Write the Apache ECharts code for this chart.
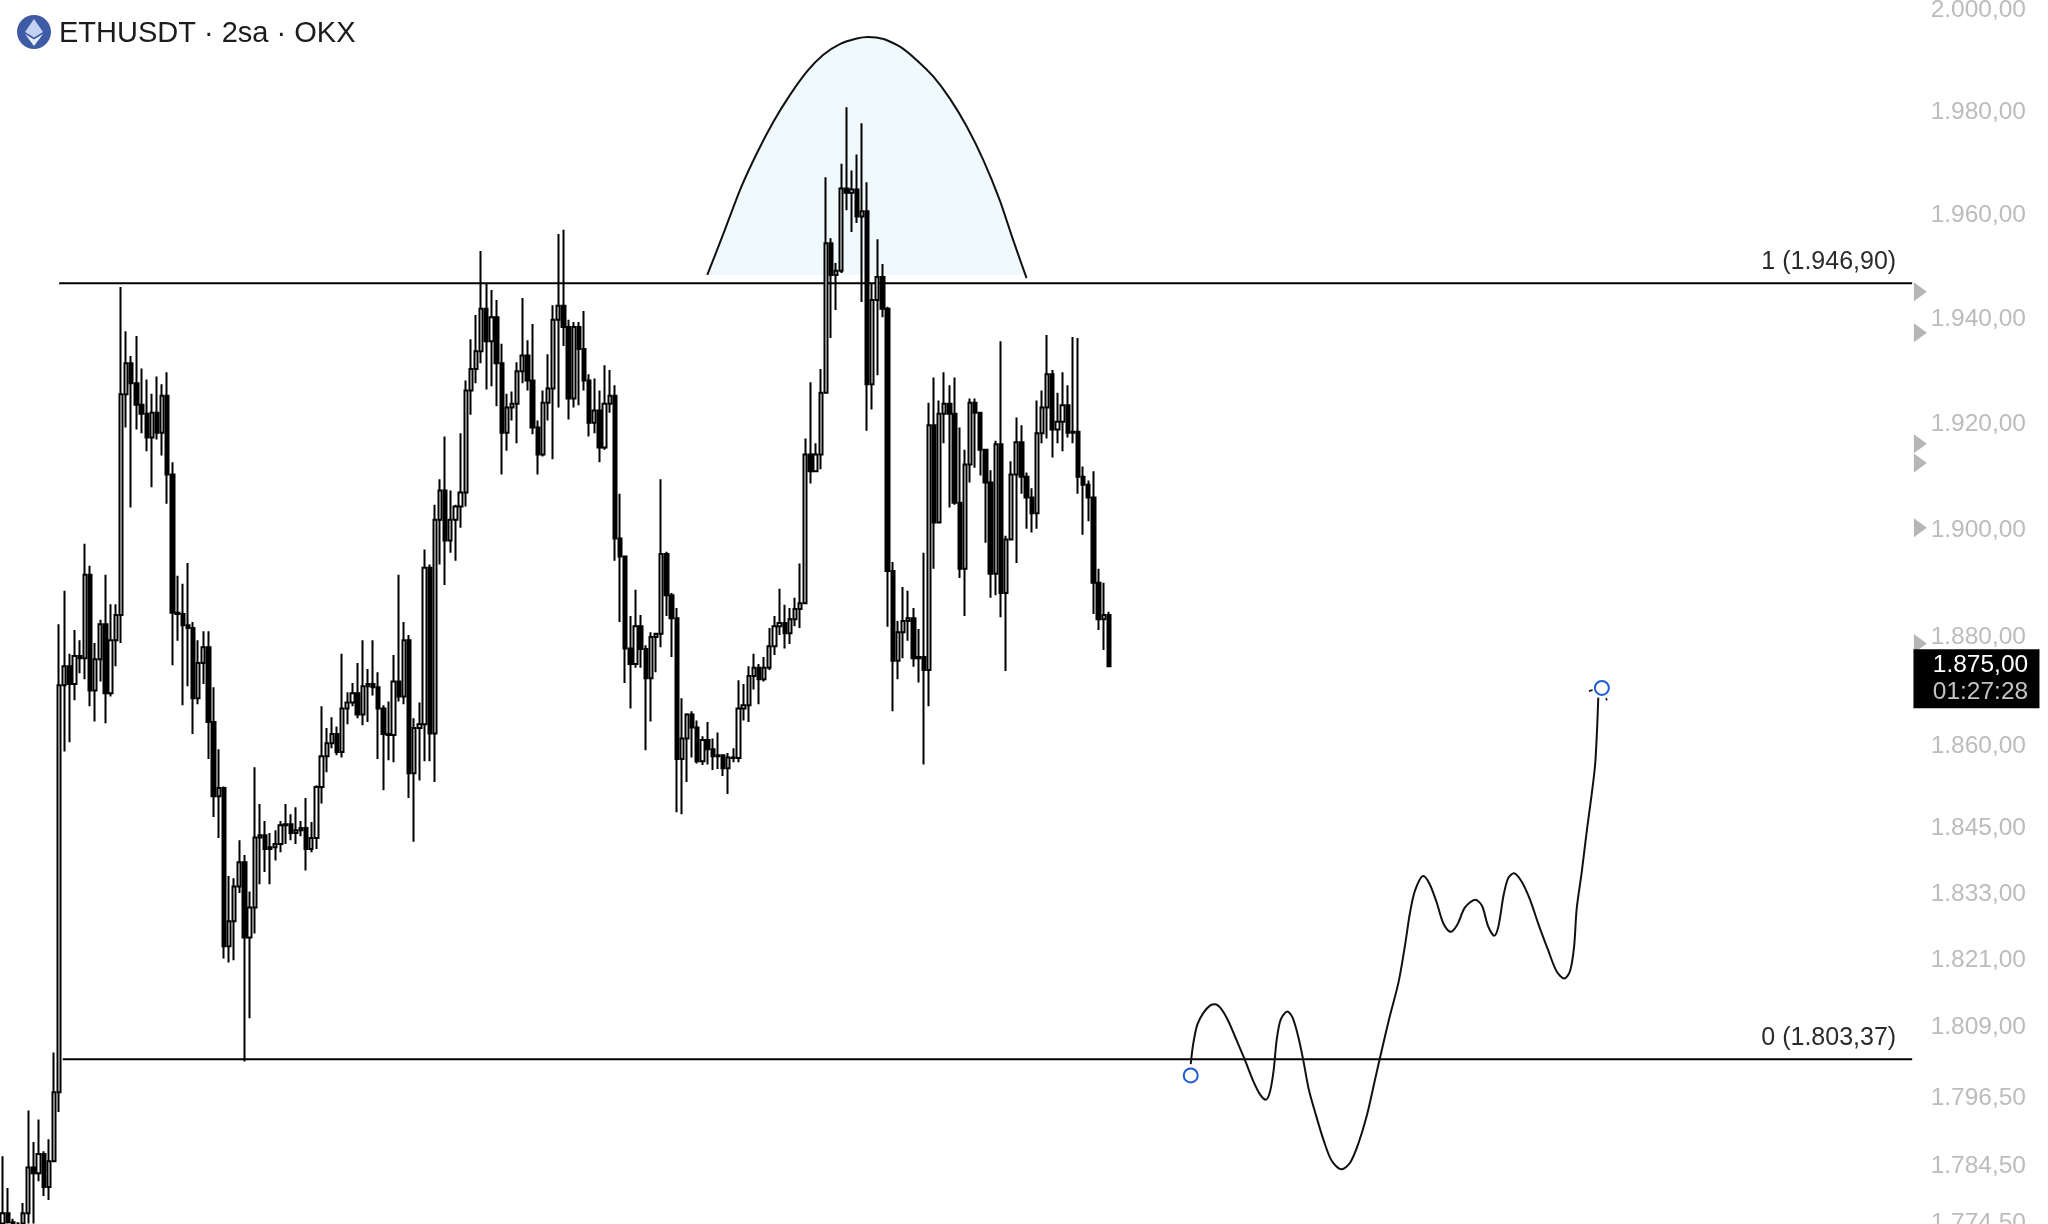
<!DOCTYPE html>
<html><head><meta charset="utf-8">
<style>html,body{margin:0;padding:0;background:#fff}#c{width:2048px;height:1224px}</style>
<script src="https://cdn.jsdelivr.net/npm/echarts@6/dist/echarts.min.js"></script>
</head><body><div id="c"></div>
<script>
const titleText = 'ETHUSDT · 2sa · OKX';
const firstOpen = 1774.4;
const closes = [1776.2,1774.6,1774.4,1774.4,1776.2,1784.2,1783.2,1786.6,1780.8,1785.3,1797.5,1871.2,1874.7,1871.4,1876.6,1876.2,1891.7,1870.2,1876.0,1882.5,1869.7,1879.5,1884.2,1925.7,1931.6,1927.8,1923.7,1922.0,1917.5,1922.2,1918.4,1925.4,1910.5,1884.6,1884.4,1882.3,1881.8,1868.8,1875.3,1878.2,1864.4,1850.8,1852.3,1823.6,1828.1,1834.4,1838.8,1825.2,1830.6,1843.3,1843.7,1841.2,1841.5,1842.1,1845.5,1845.7,1844.1,1844.6,1845.0,1841.2,1843.2,1852.5,1858.1,1860.5,1862.2,1858.9,1866.9,1868.0,1869.7,1865.8,1871.0,1871.4,1870.8,1866.9,1862.2,1862.0,1871.9,1869.1,1879.5,1855.0,1863.3,1864.0,1893.0,1862.3,1902.0,1907.5,1898.1,1902.0,1904.5,1907.1,1926.4,1930.5,1933.9,1942.0,1935.8,1940.4,1931.6,1918.4,1923.2,1923.9,1930.1,1933.1,1928.3,1919.4,1914.3,1924.1,1926.8,1939.9,1942.6,1938.5,1924.9,1938.5,1934.3,1928.3,1920.3,1922.6,1915.6,1923.9,1925.4,1898.5,1895.1,1878.0,1875.1,1882.1,1877.9,1872.5,1880.1,1880.7,1895.6,1887.9,1883.6,1857.6,1861.4,1865.8,1863.4,1857.2,1861.1,1859.4,1858.1,1858.3,1855.9,1857.9,1857.8,1866.9,1867.5,1872.9,1874.4,1872.3,1874.4,1878.4,1882.1,1882.7,1880.8,1883.4,1885.3,1886.4,1914.3,1911.1,1914.3,1926.0,1954.6,1948.5,1949.3,1965.2,1964.4,1965.0,1959.8,1960.8,1927.6,1943.7,1948.1,1942.0,1892.4,1875.7,1881.0,1883.1,1883.6,1876.2,1876.4,1874.0,1919.8,1901.5,1922.0,1923.9,1922.0,1905.2,1892.8,1912.4,1924.1,1922.2,1915.2,1909.0,1891.9,1916.2,1888.3,1898.3,1910.5,1916.6,1910.1,1906.2,1903.2,1918.3,1923.2,1929.5,1919.0,1920.5,1923.6,1918.4,1918.6,1910.1,1908.6,1906.2,1890.2,1883.4,1884.2,1874.7];
const highs = [1786.2,1780.6,1775.2,1774.6,1778.0,1794.3,1788.7,1792.7,1787.1,1789.2,1804.6,1882.5,1888.7,1877.0,1881.4,1879.5,1897.5,1893.4,1879.0,1883.3,1891.7,1886.2,1886.2,1946.2,1937.7,1933.0,1936.8,1930.6,1928.5,1925.8,1929.1,1927.6,1929.9,1912.8,1891.5,1890.0,1893.9,1882.9,1879.5,1881.2,1881.2,1870.8,1859.4,1852.6,1836.3,1835.9,1842.8,1840.1,1833.5,1856.1,1849.4,1846.3,1844.1,1844.6,1846.3,1849.4,1847.5,1848.8,1846.3,1850.5,1846.1,1852.8,1867.3,1863.3,1865.3,1863.6,1877.0,1869.9,1871.6,1875.3,1879.5,1874.2,1879.5,1873.6,1867.5,1868.2,1876.8,1891.7,1882.9,1880.5,1865.1,1868.0,1896.4,1893.6,1904.8,1909.6,1917.7,1907.5,1904.8,1918.3,1928.3,1936.2,1940.8,1953.1,1946.8,1945.6,1943.7,1935.3,1925.8,1926.2,1931.8,1944.1,1936.0,1939.1,1920.7,1926.4,1933.3,1942.7,1956.4,1957.2,1939.9,1939.5,1939.5,1941.6,1929.5,1928.7,1926.4,1931.2,1930.3,1927.4,1906.9,1895.3,1884.0,1888.9,1884.2,1878.6,1881.0,1880.5,1909.6,1896.0,1888.3,1885.5,1868.8,1866.0,1866.4,1864.7,1861.8,1864.4,1861.4,1862.5,1858.3,1858.7,1859.6,1872.1,1871.4,1874.7,1877.0,1875.1,1876.4,1881.8,1884.0,1889.1,1886.1,1885.5,1887.4,1893.8,1917.3,1928.0,1916.4,1930.5,1967.4,1955.6,1950.8,1970.0,1981.0,1968.7,1971.8,1977.9,1966.4,1947.0,1955.4,1950.6,1942.4,1894.1,1883.1,1889.4,1888.7,1885.5,1881.6,1895.8,1924.1,1928.9,1924.5,1929.9,1927.4,1928.9,1919.4,1915.2,1924.9,1924.9,1922.4,1915.0,1911.3,1916.9,1935.8,1899.0,1913.0,1921.3,1919.8,1910.9,1907.9,1924.5,1926.4,1937.0,1930.3,1926.0,1929.9,1927.4,1936.6,1936.4,1912.0,1909.4,1911.1,1892.8,1890.2,1884.8];
const lows = [1774.4,1774.4,1774.4,1774.4,1774.4,1774.4,1774.4,1781.8,1779.2,1778.5,1785.3,1794.0,1859.0,1860.7,1868.4,1873.4,1872.3,1867.3,1864.5,1871.9,1864.2,1869.1,1874.7,1879.0,1919.4,1904.3,1919.0,1918.3,1914.9,1908.1,1917.1,1914.1,1905.0,1874.9,1879.4,1867.5,1871.0,1862.2,1867.7,1871.4,1857.6,1847.0,1843.2,1821.4,1820.7,1821.1,1833.2,1803.0,1810.7,1825.9,1834.8,1837.0,1834.8,1839.1,1840.6,1842.1,1842.8,1842.1,1843.5,1837.3,1840.6,1841.2,1849.5,1855.2,1859.6,1858.3,1857.9,1864.0,1867.3,1865.1,1863.8,1864.4,1869.3,1857.6,1851.9,1857.4,1857.0,1868.2,1867.7,1850.5,1842.5,1853.7,1857.2,1857.2,1853.4,1893.6,1889.8,1895.8,1894.3,1900.5,1904.5,1921.8,1927.8,1931.6,1926.6,1927.2,1923.4,1910.5,1915.0,1920.7,1916.4,1927.8,1926.4,1918.1,1910.5,1913.9,1920.7,1913.4,1923.2,1934.9,1920.9,1923.2,1923.6,1926.4,1917.7,1918.3,1912.8,1915.2,1922.2,1894.3,1882.9,1871.6,1866.9,1874.4,1874.4,1859.2,1864.5,1873.6,1878.2,1884.0,1876.4,1847.9,1847.5,1853.4,1857.9,1856.8,1856.5,1856.6,1855.6,1855.8,1854.5,1851.2,1857.0,1857.0,1864.7,1864.4,1870.4,1867.7,1871.9,1874.0,1876.8,1880.5,1878.0,1878.8,1882.1,1881.8,1886.4,1908.8,1911.1,1911.5,1926.0,1936.4,1941.8,1948.9,1961.0,1956.8,1958.5,1943.3,1918.8,1922.8,1929.3,1940.4,1882.0,1866.4,1872.3,1876.2,1879.4,1874.6,1871.7,1856.6,1867.3,1892.8,1901.3,1916.4,1904.3,1904.8,1891.1,1884.0,1909.0,1911.8,1910.3,1897.7,1887.4,1887.9,1883.8,1873.8,1898.1,1893.9,1906.9,1900.3,1899.6,1900.3,1916.4,1917.3,1913.7,1916.4,1914.9,1917.5,1916.4,1906.9,1899.2,1901.7,1884.4,1881.4,1877.7,1874.7];

const yTicks = [2000,1980,1960,1940,1920,1900,1880,1860,1845,1833,1821,1809,1796.5,1784.5,1774.5];
const fibLevels = [{name:'1',price:1946.9},{name:'0',price:1803.37}];
const alertPrices = [1945.3,1937.4,1916.3,1912.7,1900.5,1878.9];
const lastPrice = 1875.0;
const countdown = '01:27:28';

const archX = [136.95,140.06,143.3,146.56,149.8,153.0,156.3,159.5,162.7,166.0,168.2,171.2,174.4,177.6,180.9,184.1,187.4,190.6,193.8,196.4,199.0];
const archY = [1948.5,1956.4,1964.9,1972.0,1978.2,1983.4,1988.0,1991.3,1993.4,1994.5,1994.8,1994.4,1992.9,1990.3,1987.0,1982.7,1977.2,1970.7,1962.9,1955.2,1947.9];
const pathX = [230.9,231.4,232.2,233.4,234.7,235.6,236.9,238.2,239.8,241.5,243.1,244.4,245.5,246.3,247.0,247.6,248.4,249.7,250.7,251.8,252.8,253.8,255.1,256.7,258.3,260.2,261.9,263.5,265.1,266.7,268.0,269.6,271.3,272.6,273.5,274.5,276.1,277.3,278.7,280.0,281.4,282.7,284.2,286.2,287.5,288.7,289.9,290.7,291.7,292.6,293.7,295.2,296.8,298.5,300.4,302.0,303.5,304.6,305.4,305.9,306.9,307.9,308.8,309.5,309.9,310.1];
const pathY = [1802.5,1806.2,1809.6,1811.7,1813.0,1813.2,1812.3,1810.2,1806.8,1803.1,1799.4,1797.1,1796.2,1797.6,1801.3,1806.8,1810.5,1811.9,1810.8,1807.4,1803.1,1798.2,1793.9,1789.1,1785.4,1783.9,1785.1,1788.5,1793.3,1799.7,1804.9,1811.1,1817.2,1824.1,1829.6,1833.7,1836.3,1834.9,1831.5,1827.7,1826.2,1827.5,1830.6,1832.0,1830.9,1827.2,1825.5,1827.2,1832.8,1835.9,1836.8,1835.3,1832.1,1827.5,1822.8,1819.1,1817.8,1819.1,1823.5,1830.3,1837.1,1844.7,1851.0,1856.7,1863.8,1868.9];
const pathEnds = [[230.9,1800.5],[310.8,1870.7]];
const tickA = [[308.3,1870.1],[309.0,1870.3]];
const tickB = [[311.6,1868.8],[311.8,1868.4]];

const barSlots = 398;
const lineStartA = 11.0, lineStartB = 11.7, lineEnd = 371.1;
const alertX = 372.7, boxX = 383.6, boxPrice = 1872.4;

const fmt = v => { const [a,b] = v.toFixed(2).split('.'); return a.replace(/\B(?=(\d{3})+$)/g,'.') + ',' + b; };
const FONT = '"Liberation Sans", Arial, sans-serif';
const categories = Array.from({length:barSlots},(_,i)=>String(i));
const candles = closes.map((c,i)=>[i===0?firstOpen:closes[i-1], c, lows[i], highs[i]]);
const zip = (a,b)=>a.map((v,i)=>[v,b[i]]);

const chart = echarts.init(document.getElementById('c'),null,{renderer:'canvas'});
const hline = (lvl,start)=>({
  type:'line',xAxisIndex:1,yAxisIndex:0,z:2,silent:true,symbol:'none',
  lineStyle:{color:'#000',width:2},
  data:[[start,lvl.price],[lineEnd,lvl.price]]
});
chart.setOption({
  animation:false,
  backgroundColor:'#ffffff',
  title:{text:titleText,left:59,top:19,padding:0,textStyle:{fontFamily:FONT,fontSize:29,fontWeight:'normal',color:'#1c1c1c'}},
  grid:{left:0,right:0,top:0,bottom:0,containLabel:false,outerBoundsMode:'none'},
  xAxis:[
    {type:'category',data:categories,show:false,boundaryGap:true},
    {type:'value',min:-0.5,max:barSlots-0.5,show:false}
  ],
  yAxis:[{
    type:'log',logBase:10,min:1774.3,max:2002.1,position:'right',scale:true,
    splitLine:{show:false},axisLine:{show:false},axisTick:{show:false},minorTick:{show:false},
    axisLabel:{show:true,inside:true,margin:22,color:'#bcbcbc',fontSize:24.5,fontFamily:FONT,
      customValues:yTicks,formatter:v=>fmt(v),showMinLabel:true,showMaxLabel:true,hideOverlap:false}
  }],
  graphic:[
    {type:'circle',shape:{cx:34,cy:32,r:17},style:{fill:'#3e5ba6'},z:10},
    {type:'polygon',shape:{points:[[34,19],[43,32],[34,37.5],[25,32]]},style:{fill:'#c3d1f2'},z:11},
    {type:'polygon',shape:{points:[[34,39.5],[43,34],[34,46],[25,34]]},style:{fill:'#e6ecfa'},z:11}
  ],
  series:[
    {type:'line',name:'arch',xAxisIndex:1,yAxisIndex:0,z:1,silent:true,symbol:'none',smooth:0.2,
      data:zip(archX,archY),lineStyle:{color:'#111',width:2},
      areaStyle:{color:'#f0fafc',opacity:1,origin:archY[0]}},
    hline(fibLevels[0],lineStartA),
    hline(fibLevels[1],lineStartB),
    {type:'scatter',xAxisIndex:1,yAxisIndex:0,z:2,silent:true,symbolSize:1,
      data:fibLevels.map(l=>({value:[lineEnd,l.price],name:l.name})),
      itemStyle:{color:'rgba(0,0,0,0)',opacity:1},
      label:{show:true,position:'top',align:'right',offset:[-16,-3],color:'#2b2b2b',fontSize:25,fontFamily:FONT,
        formatter:p=>p.name+' ('+fmt(p.value[1])+')'}},
    {type:'candlestick',xAxisIndex:0,yAxisIndex:0,z:3,silent:true,barWidth:3.8,data:candles,
      itemStyle:{color:'#ffffff',color0:'#000000',borderColor:'#000000',borderColor0:'#000000',borderWidth:2}},
    {type:'line',name:'path',xAxisIndex:1,yAxisIndex:0,z:4,silent:true,symbol:'none',smooth:0.3,
      data:zip(pathX,pathY),lineStyle:{color:'#111',width:2}},
    {type:'line',xAxisIndex:1,yAxisIndex:0,z:4,silent:true,symbol:'none',data:tickA,lineStyle:{color:'#111',width:1.6}},
    {type:'line',xAxisIndex:1,yAxisIndex:0,z:4,silent:true,symbol:'none',data:tickB,lineStyle:{color:'#111',width:1.6}},
    {type:'scatter',xAxisIndex:1,yAxisIndex:0,z:5,silent:true,symbol:'circle',symbolSize:14,data:pathEnds,
      itemStyle:{color:'#fff',borderColor:'#1f5ad6',borderWidth:2,opacity:1}},
    {type:'scatter',xAxisIndex:1,yAxisIndex:0,z:5,silent:true,symbol:'triangle',symbolRotate:-90,symbolSize:[19,13],
      data:alertPrices.map(p=>[alertX,p]),itemStyle:{color:'#b6b6b6',opacity:1}},
    {type:'scatter',xAxisIndex:1,yAxisIndex:0,z:6,silent:true,symbol:'rect',symbolSize:[126,59],
      data:[[boxX,boxPrice]],itemStyle:{color:'#000',opacity:1},
      label:{show:true,position:'inside',offset:[4,0],align:'center',verticalAlign:'middle',
        formatter:'{a|'+fmt(lastPrice)+'}\n{b|'+countdown+'}',
        rich:{a:{color:'#fff',fontSize:24.5,fontFamily:FONT,lineHeight:27},
              b:{color:'#c4c4c4',fontSize:24.5,fontFamily:FONT,lineHeight:27}}}}
  ]
});
</script></body></html>
